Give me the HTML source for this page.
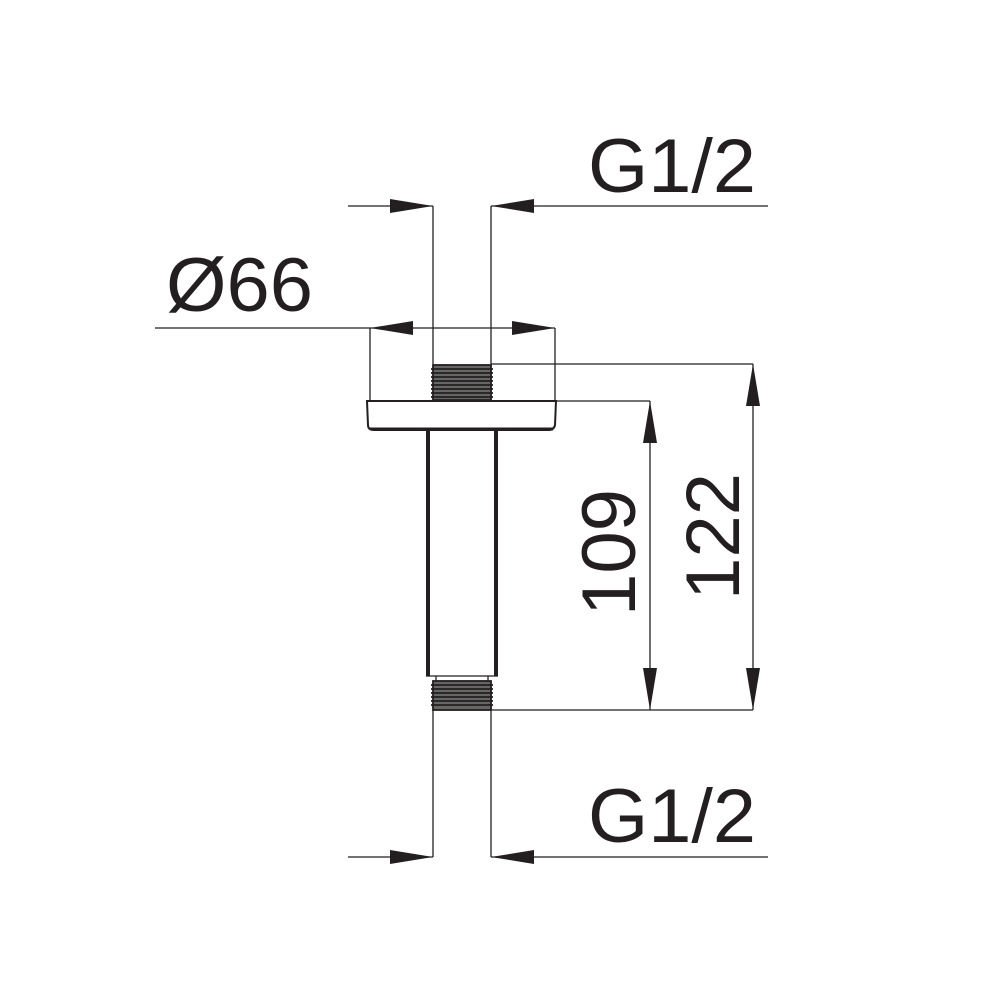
<!DOCTYPE html>
<html><head><meta charset="utf-8"><style>
html,body{margin:0;padding:0;background:#fff;}
svg{display:block}
text{font-family:"Liberation Sans",Arial,sans-serif;fill:#231f20;font-size:76px;}
</style></head><body>
<svg width="990" height="990" viewBox="0 0 990 990" xmlns="http://www.w3.org/2000/svg">
<g stroke="#231f20" stroke-width="1.3" fill="none">
<line x1="348" y1="206" x2="433" y2="206"/>
<line x1="491" y1="206" x2="768" y2="206"/>
<line x1="433" y1="206" x2="433" y2="364"/>
<line x1="491" y1="206" x2="491" y2="364"/>
<line x1="155" y1="328" x2="555" y2="328"/>
<line x1="370" y1="328" x2="370" y2="400"/>
<line x1="555" y1="328" x2="555" y2="400"/>
<line x1="491" y1="364" x2="753" y2="364"/>
<line x1="557" y1="401" x2="650" y2="401"/>
<line x1="491" y1="710" x2="753" y2="710"/>
<line x1="650" y1="401" x2="650" y2="710"/>
<line x1="753" y1="364" x2="753" y2="710"/>
<line x1="433" y1="710" x2="433" y2="857"/>
<line x1="491" y1="710" x2="491" y2="857"/>
<line x1="348" y1="857" x2="433" y2="857"/>
<line x1="491" y1="857" x2="768" y2="857"/>
</g>
<g fill="#231f20">
<polygon points="433,206 390,199 390,213"/>
<polygon points="491,206 534,199 534,213"/>
<polygon points="370,328 413,321 413,335"/>
<polygon points="555,328 512,321 512,335"/>
<polygon points="650,401 643,443 657,443"/>
<polygon points="650,710 643,668 657,668"/>
<polygon points="753,364 746,406 760,406"/>
<polygon points="753,710 746,668 760,668"/>
<polygon points="433,857 390,850 390,864"/>
<polygon points="491,857 534,850 534,864"/>
</g>
<g stroke="#231f20" stroke-width="1.8">
<rect x="433" y="365" width="58" height="35" fill="#666"/>
<line x1="431" y1="369" x2="493" y2="369"/><line x1="431" y1="373" x2="493" y2="373"/>
<line x1="431" y1="377" x2="493" y2="377"/><line x1="431" y1="381" x2="493" y2="381"/>
<line x1="431" y1="385" x2="493" y2="385"/><line x1="431" y1="389" x2="493" y2="389"/>
<line x1="431" y1="393" x2="493" y2="393"/><line x1="431" y1="397" x2="493" y2="397"/>
<rect x="433" y="681" width="58" height="29" fill="#666"/>
<line x1="431" y1="685" x2="493" y2="685"/><line x1="431" y1="689" x2="493" y2="689"/>
<line x1="431" y1="693" x2="493" y2="693"/><line x1="431" y1="697" x2="493" y2="697"/>
<line x1="431" y1="701" x2="493" y2="701"/><line x1="431" y1="705" x2="493" y2="705"/>
</g>
<path d="M367,401 L556,401 L555,425 Q554,430 548,430 L374,430 Q368,430 368,425 Z" fill="#fff" stroke="#231f20" stroke-width="2"/>
<line x1="370" y1="429" x2="553" y2="429" stroke="#231f20" stroke-width="3"/>
<line x1="428" y1="430" x2="428" y2="676" stroke="#231f20" stroke-width="4"/>
<line x1="496" y1="430" x2="496" y2="676" stroke="#231f20" stroke-width="4"/>
<line x1="426" y1="676" x2="498" y2="676" stroke="#231f20" stroke-width="1.3"/>
<line x1="436" y1="676" x2="436" y2="681" stroke="#231f20" stroke-width="1.3"/>
<line x1="488" y1="676" x2="488" y2="681" stroke="#231f20" stroke-width="1.3"/>
<text x="588" y="192" textLength="168" lengthAdjust="spacingAndGlyphs">G1/2</text>
<text x="166" y="311" textLength="147" lengthAdjust="spacingAndGlyphs">Ø66</text>
<text x="588" y="842" textLength="168" lengthAdjust="spacingAndGlyphs">G1/2</text>
<text transform="translate(635,616) rotate(-90)" textLength="127" lengthAdjust="spacingAndGlyphs">109</text>
<text transform="translate(739,600) rotate(-90)" textLength="127" lengthAdjust="spacingAndGlyphs">122</text>
</svg>
</body></html>
